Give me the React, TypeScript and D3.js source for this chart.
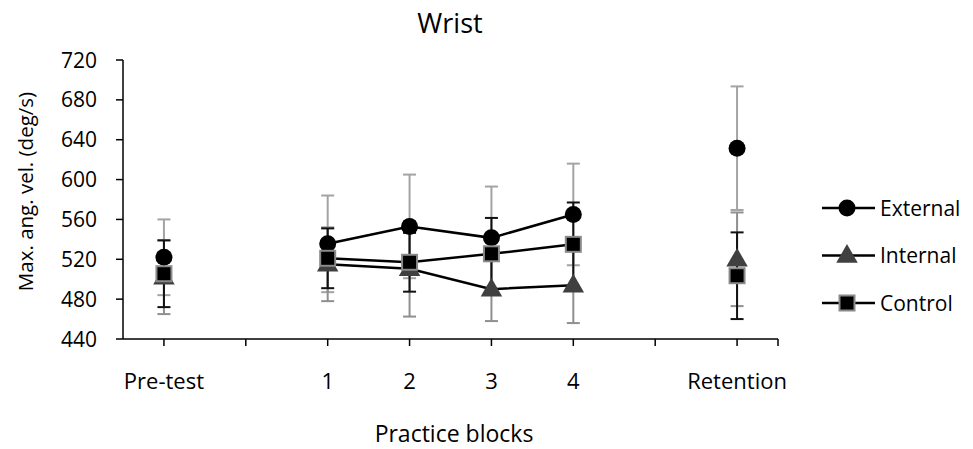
import * as React from 'react';
import * as d3 from 'd3';

// x categories (position 1..8), blank ones are spacer slots
const categories = ['Pre-test', '', '1', '2', '3', '4', '', 'Retention'];
const pointSlots = [1, 3, 4, 5, 6, 8];
const yTicks = [440, 480, 520, 560, 600, 640, 680, 720];

const externalMean = [522, 535.5, 553, 541.5, 565, 631.5];
const externalSd = [38, 48.5, 52, 51.5, 51, 62];
const internalMean = [502, 515, 510.5, 490, 494, 520];
const internalSd = [37, 37, 48, 32, 38, 47];
const controlMean = [505.5, 521, 517, 525.5, 535, 503.5];
const controlSd = [33.5, 30, 29.5, 36, 42, 43.5];

const seriesNames = ['External', 'Internal', 'Control'];

const font = '"Open Sans", sans-serif';

const Marker = ({ kind, x, y }) => {
	if (kind === 'External') return <circle cx={x} cy={y} r={8.5} fill='#000' />;
	if (kind === 'Internal') {
		const sym = d3.symbol(d3.symbolTriangle, 200)();
		return <path d={sym} transform={`translate(${x},${y + 1})`} fill='#404040' />;
	}
	return <rect x={x - 7.5} y={y - 7.5} width={15} height={15} fill='#000' stroke='#8a8a8a' strokeWidth={2} />;
};

export default function App() {
	const margin = { left: 123, right: 778, top: 60, bottom: 339 };
	const x = d3.scaleLinear().domain([0.5, 8.5]).range([margin.left, margin.right]);
	const y = d3.scaleLinear().domain([440, 720]).range([margin.bottom, margin.top]);

	const series = [
		{ name: 'External', mean: externalMean, sd: externalSd, barColor: '#a3a3a3' },
		{ name: 'Internal', mean: internalMean, sd: internalSd, barColor: '#8f8f8f' },
		{ name: 'Control', mean: controlMean, sd: controlSd, barColor: '#111' },
	];

	const line = d3
		.line<number>()
		.x((_, i) => x(pointSlots[i + 1]))
		.y(d => y(d));

	const xTicks = [...d3.range(1, 9), 8.5];

	return (
		<div style={{ position: 'absolute', left: 0, top: 0 }}>
			<svg width={973} height={449} style={{ display: 'block', background: '#fff' }}>
				<text x={450} y={33} textAnchor='middle' fontFamily={font} fontSize={27} fill='#000'>
					Wrist
				</text>

				{/* y axis */}
				<line x1={margin.left} x2={margin.left} y1={y(720)} y2={y(440)} stroke='#000' strokeWidth={1.5} />
				{yTicks.map(t => (
					<g key={t}>
						<line x1={margin.left - 7} x2={margin.left} y1={y(t)} y2={y(t)} stroke='#000' strokeWidth={1.5} />
						<text x={97} y={y(t)} dy='0.36em' textAnchor='end' fontFamily={font} fontSize={21}>
							{t}
						</text>
					</g>
				))}
				<text
					transform={`translate(26,${(margin.top + margin.bottom) / 2 - 8}) rotate(-90)`}
					textAnchor='middle'
					dy='0.35em'
					fontFamily={font}
					fontSize={20.5}
				>
					Max. ang. vel. (deg/s)
				</text>

				{/* x axis */}
				<line x1={margin.left} x2={margin.right} y1={y(440)} y2={y(440)} stroke='#000' strokeWidth={1.5} />
				{xTicks.map(t => (
					<line key={t} x1={x(t)} x2={x(t)} y1={y(440)} y2={y(440) + 7} stroke='#000' strokeWidth={1.5} />
				))}
				{categories.map((c, i) => (
					<text key={i} x={x(i + 1)} y={389} textAnchor='middle' fontFamily={font} fontSize={22}>
						{c}
					</text>
				))}
				<text x={454} y={442} textAnchor='middle' fontFamily={font} fontSize={23}>
					Practice blocks
				</text>

				{/* error bars */}
				{series.map(s => (
					<g key={s.name} stroke={s.barColor} strokeWidth={2}>
						{s.mean.map((m, i) => {
							const cx = x(pointSlots[i]);
							const hi = y(m + s.sd[i]);
							const lo = y(m - s.sd[i]);
							return (
								<g key={i}>
									<line x1={cx} x2={cx} y1={hi} y2={lo} />
									<line x1={cx - 6.5} x2={cx + 6.5} y1={hi} y2={hi} />
									<line x1={cx - 6.5} x2={cx + 6.5} y1={lo} y2={lo} />
								</g>
							);
						})}
					</g>
				))}

				{/* lines across practice blocks */}
				{series.map(s => (
					<path key={s.name} d={line(s.mean.slice(1, 5))} fill='none' stroke='#000' strokeWidth={2.5} />
				))}

				{/* markers */}
				{series.map(s => (
					<g key={s.name}>
						{s.mean.map((m, i) => (
							<Marker key={i} kind={s.name} x={x(pointSlots[i])} y={y(m)} />
						))}
					</g>
				))}

				{/* legend */}
				{seriesNames.map((n, i) => {
					const ly = 208 + i * 47.5;
					return (
						<g key={n}>
							<line x1={822} x2={875} y1={ly} y2={ly} stroke='#000' strokeWidth={2.5} />
							<Marker kind={n} x={847} y={ly} />
							<text x={880} y={ly} dy='0.36em' fontFamily={font} fontSize={21}>
								{n}
							</text>
						</g>
					);
				})}
			</svg>
		</div>
	);
}
